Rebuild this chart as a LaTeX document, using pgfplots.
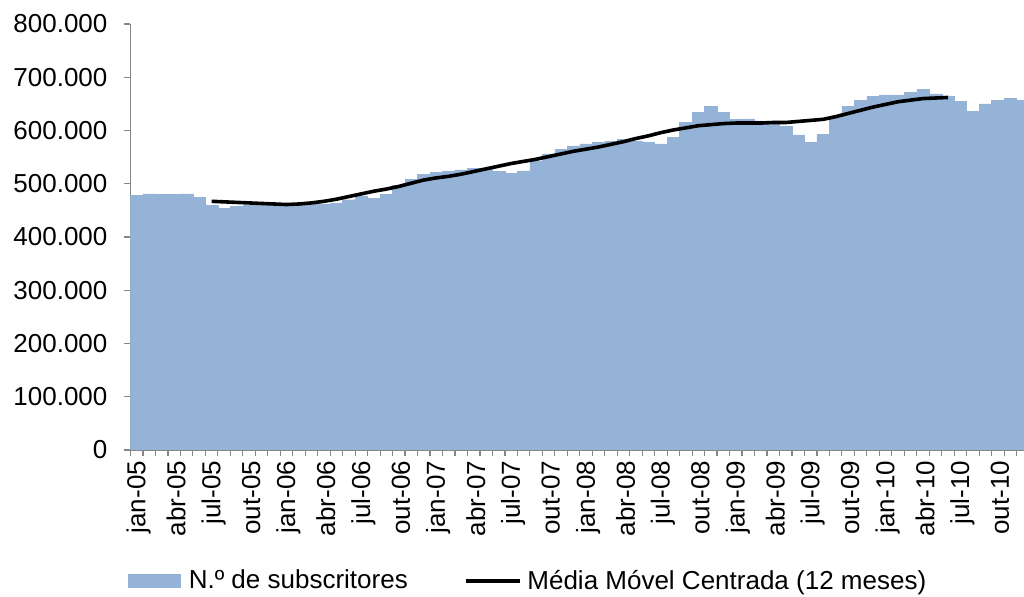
\documentclass[border=0pt]{standalone}
\usepackage{fontspec}
\setmainfont{Liberation Sans}
\usepackage{pgfplots}
\pgfplotsset{compat=1.18}
\usepackage{pgfplotstable}
\definecolor{barblue}{RGB}{149,179,215}
\definecolor{axgray}{RGB}{134,134,134}

\pgfplotstableread{
x y
0 478
1 481
2 480
3 480
4 481
5 474
6 460
7 454
8 457
9 460
10 460
11 461
12 460
13 460
14 462
15 461
16 464
17 470
18 476
19 472
20 480
21 497
22 508
23 518
24 522
25 524
26 526
27 529
28 530
29 523
30 519
31 524
32 543
33 556
34 565
35 571
36 575
37 578
38 580
39 583
40 580
41 578
42 575
43 587
44 615
45 634
46 646
47 634
48 621
49 622
50 618
51 618
52 608
53 592
54 578
55 593
56 625
57 645
58 657
59 664
60 667
61 667
62 671
63 677
64 669
65 665
66 655
67 636
68 650
69 657
70 661
71 657
}\subs

\pgfplotstableread{
x y
6 467
7 466
8 465
9 464
10 463
11 462
12 461
13 462
14 464
15 467
16 471
17 476
18 481
19 486
20 490
21 495
22 501
23 507
24 511
25 514
26 518
27 523
28 528
29 533
30 538
31 542
32 546
33 551
34 556
35 561
36 565
37 569
38 574
39 579
40 585
41 590
42 596
43 601
44 605
45 609
46 611
47 613
48 614
49 614
50 614
51 615
52 615
53 617
54 619
55 621
56 626
57 632
58 638
59 644
60 649
61 654
62 657
63 660
64 661
65 662
}\mma

\begin{document}
\begin{tikzpicture}
\useasboundingbox (-65.25pt,-73.5pt) rectangle (446.75pt,225pt);
\begin{axis}[
  scale only axis, width=449.3pt, height=213pt,
  xmin=-0.5, xmax=71.5, ymin=0, ymax=800,
  enlargelimits=false,
  axis lines=left,
  axis line style={-, draw=axgray, line width=0.75pt},
  tick align=outside, tick pos=left,
  major tick length=3pt, minor tick length=3pt,
  every tick/.style={draw=axgray, line width=0.6pt},
  xtick={0,3,...,69},
  xticklabels={jan-05,abr-05,jul-05,out-05,jan-06,abr-06,jul-06,out-06,jan-07,abr-07,jul-07,out-07,jan-08,abr-08,jul-08,out-08,jan-09,abr-09,jul-09,out-09,jan-10,abr-10,jul-10,out-10},
  major x tick style={draw=none},
  minor xtick={-0.5,0.5,...,71.5},
  xticklabel style={rotate=90, anchor=east, xshift=1pt, yshift=-1pt},
  ytick={0,100,...,800},
  yticklabels={0,100.000,200.000,300.000,400.000,500.000,600.000,700.000,800.000},
  yticklabel style={xshift=-5pt},
  every tick label/.append style={font=\fontsize{13}{15}\selectfont, text=black},
  legend style={at={(0,0)}, anchor=west, xshift=-1.25pt, yshift=-65.5pt,
    draw=none, inner sep=0pt, font=\fontsize{13}{15}\selectfont,
    /tikz/every even column/.append style={column sep=26pt}},
  legend columns=2, legend cell align=left,
]
\addplot[ybar, bar width=1, bar shift=0pt, fill=barblue, draw=barblue, line width=0.2pt,
  legend image code/.code={\fill[barblue] (0pt,-3.25pt) rectangle (26pt,3.25pt);}]
  table[x=x,y=y] {\subs};
\addlegendentry{\hspace{2pt}N.º de subscritores}
\addplot[black, line width=1.8pt, line join=round,
  legend image code/.code={\draw[black,line width=1.8pt] (0pt,0pt) -- (27pt,0pt);}]
  table[x=x,y=y] {\mma};
\addlegendentry{\hspace{1pt}Média Móvel Centrada (12 meses)}
\end{axis}
\end{tikzpicture}
\end{document}
